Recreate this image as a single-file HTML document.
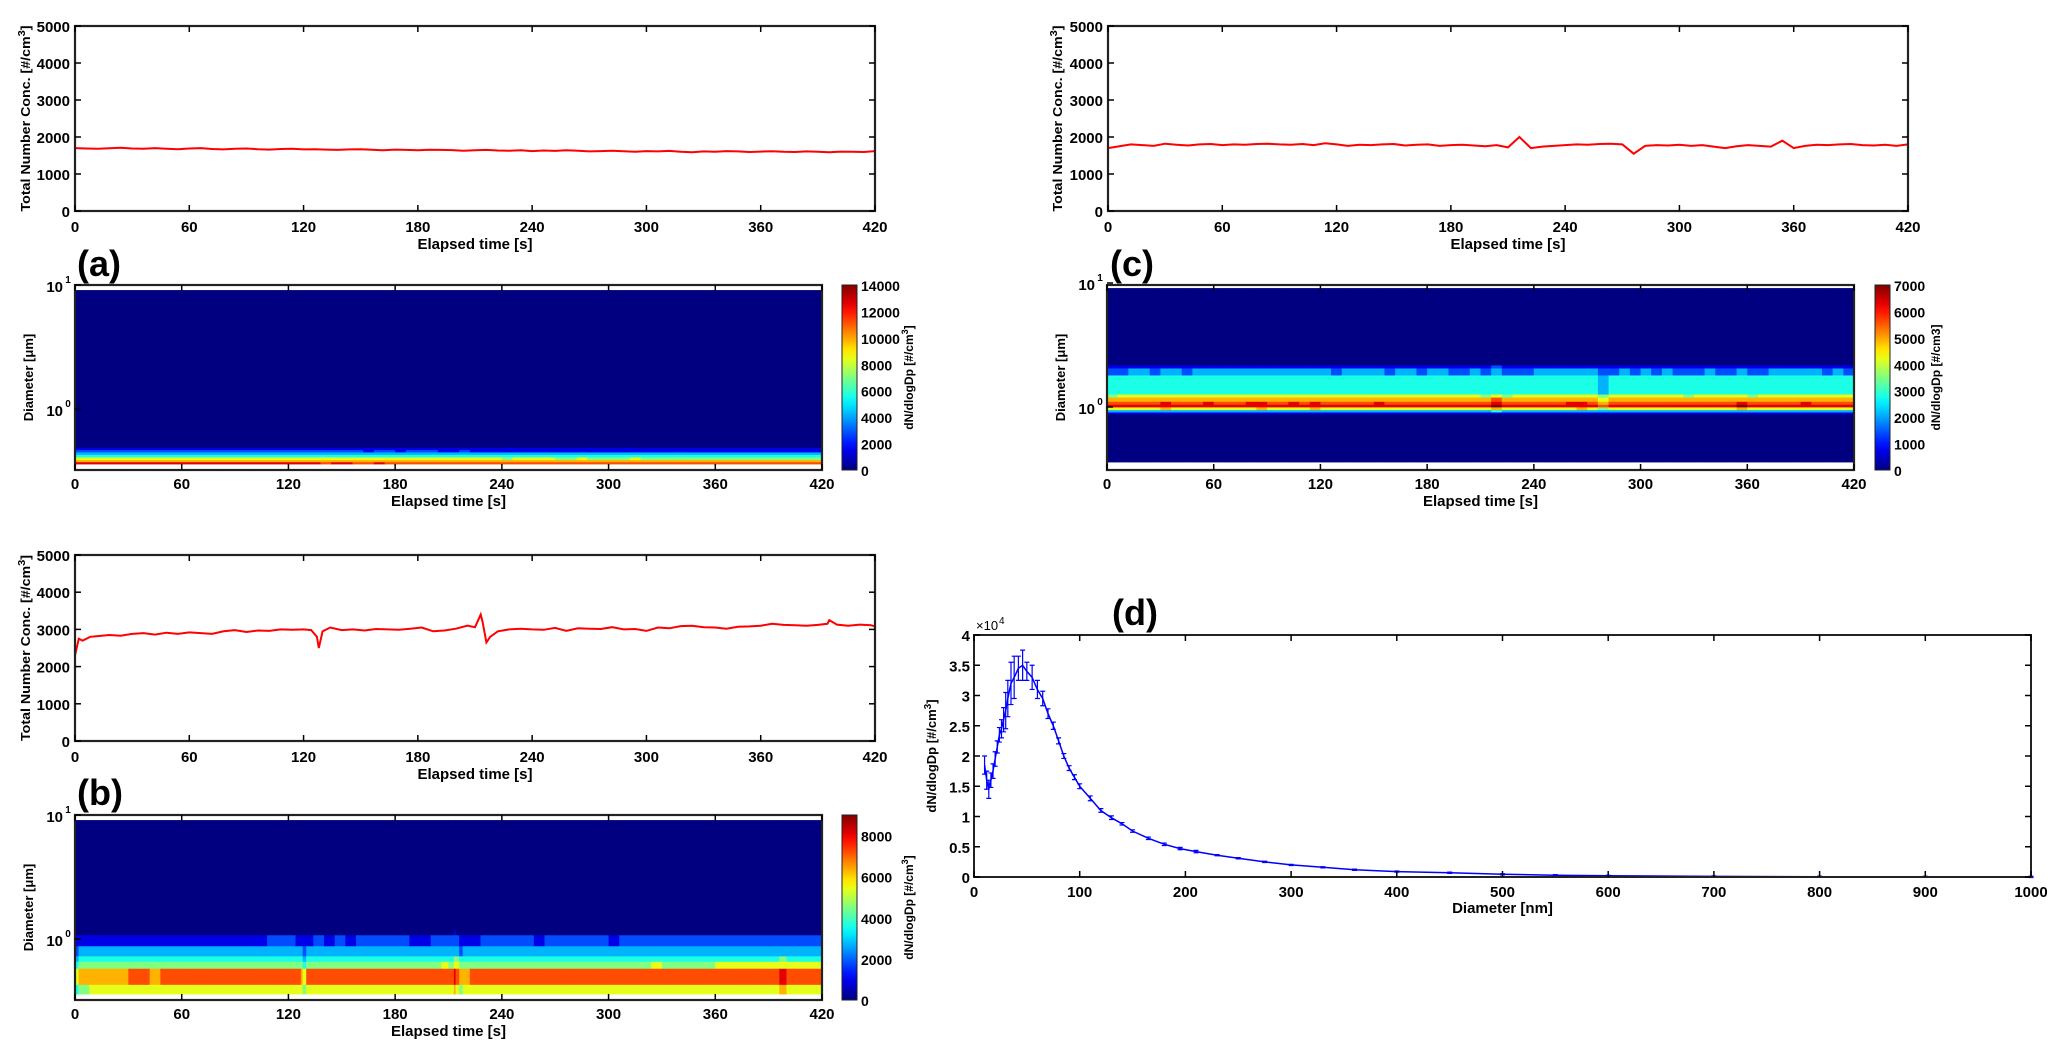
<!DOCTYPE html>
<html><head><meta charset="utf-8"><style>
html,body{margin:0;padding:0;background:#fff;}
svg{display:block;}
text{font-family:"Liberation Sans Narrow","Liberation Sans",sans-serif;font-weight:bold;fill:#000;}
.wide{font-family:"Liberation Sans",sans-serif;}
</style></head><body>
<svg id="fig" width="2067" height="1060" viewBox="0 0 2067 1060"></svg>
<script>
// ---- data ----
const aTotal=[1700,1690,1680,1695,1710,1690,1680,1700,1685,1670,1690,1700,1675,1665,1680,1690,1670,1660,1675,1680,1665,1670,1660,1650,1665,1670,1655,1640,1660,1650,1640,1655,1650,1645,1630,1640,1650,1635,1630,1640,1620,1635,1625,1640,1630,1610,1620,1630,1615,1600,1620,1610,1625,1600,1590,1610,1600,1620,1610,1595,1605,1615,1600,1595,1610,1600,1590,1605,1600,1595,1620];
const bTimes=[0,2,4,8,12,18,24,30,36,42,48,54,60,66,72,78,84,90,96,102,108,114,120,124,127,128,130,134,140,146,152,158,164,170,176,182,188,194,200,206,210,213,214,216,218,222,228,234,240,246,252,258,264,270,276,282,288,294,300,306,312,318,324,330,336,342,348,354,360,366,372,378,384,390,395,396,400,406,412,418,420];
const bTotal=[2300,2750,2700,2800,2820,2850,2830,2880,2900,2860,2910,2880,2920,2900,2880,2950,2980,2930,2970,2960,3000,2990,3000,2980,2800,2500,2950,3050,2980,3000,2970,3010,3000,2990,3020,3050,2950,2970,3020,3100,3060,3400,3200,2650,2800,2950,3000,3020,3000,2990,3040,2960,3030,3020,3010,3060,3000,3010,2960,3050,3030,3090,3100,3060,3050,3020,3070,3080,3100,3150,3120,3110,3100,3120,3150,3250,3130,3100,3130,3110,3080];
const cTotal=[1700,1750,1800,1780,1760,1820,1790,1770,1800,1810,1780,1800,1790,1810,1820,1800,1790,1810,1780,1830,1800,1760,1790,1780,1800,1810,1770,1790,1800,1760,1780,1790,1770,1750,1780,1720,2000,1700,1740,1760,1780,1800,1790,1810,1820,1800,1550,1760,1780,1770,1790,1760,1780,1740,1700,1750,1780,1760,1740,1900,1700,1760,1790,1780,1800,1810,1780,1770,1790,1760,1800];
const xTicks=[0,60,120,180,240,300,360,420];
const yTicks=[0,1000,2000,3000,4000,5000];
// size distributions (bin edges in µm, conc per bin)
const aEdges=[0.36,0.375,0.39,0.41,0.43,0.45,0.47,0.49,9.1];
const aConc=[12500,10500,8500,6500,4500,2800,1500,0];
const bEdges=[0.36,0.43,0.58,0.66,0.73,0.88,1.08,1.18,9.1];
const bConc=[5800,7500,5200,4200,3000,1800,800,0];
const cEdges=[0.36,0.88,0.91,0.95,1.0,1.05,1.11,1.2,1.27,1.81,2.06,2.18,2.26,9.1];
const cConc=[0,1000,2500,4800,6600,6200,5200,4300,3000,2100,1300,600,0];
const aCbTicks=[0,2000,4000,6000,8000,10000,12000,14000];
const bCbTicks=[0,2000,4000,6000,8000];
const cCbTicks=[0,1000,2000,3000,4000,5000,6000,7000];
// panel d
const dDiam=[10,12,14,16,18,20,22,24,26,28,30,32,35,38,42,46,50,55,60,65,70,75,80,85,90,95,100,110,120,130,140,150,165,180,195,210,230,250,275,300,330,360,400,450,500,550,600,700,800,900,1000];
const dConc=[1.85,1.6,1.45,1.6,1.75,1.95,2.15,2.35,2.45,2.6,2.75,2.95,3.2,3.3,3.45,3.5,3.4,3.3,3.1,2.95,2.7,2.5,2.25,2.0,1.8,1.65,1.5,1.3,1.1,0.98,0.88,0.76,0.64,0.54,0.47,0.42,0.36,0.31,0.25,0.2,0.16,0.12,0.09,0.07,0.045,0.03,0.02,0.01,0.005,0.003,0.002];
const dErr=[0.15,0.15,0.15,0.12,0.12,0.12,0.1,0.12,0.15,0.2,0.3,0.3,0.35,0.35,0.2,0.25,0.15,0.2,0.15,0.12,0.08,0.06,0.05,0.04,0.04,0.04,0.04,0.04,0.03,0.03,0.02,0.02,0.02,0.02,0.02,0.02,0.01,0.01,0.01,0.01,0.01,0.01,0.01,0.01,0.01,0.01,0.01,0.01,0.01,0.01,0.01];
const dXTicks=[0,100,200,300,400,500,600,700,800,900,1000];
const dYTicks=[0,0.5,1,1.5,2,2.5,3,3.5,4];

const NS="http://www.w3.org/2000/svg";
const svg=document.getElementById('fig');
function el(tag,attrs,parent,txt){const e=document.createElementNS(NS,tag);for(const k in attrs)e.setAttribute(k,attrs[k]);if(txt!==undefined)e.textContent=txt;(parent||svg).appendChild(e);return e;}
function jet(t){t=Math.max(0,Math.min(1,t));const c=v=>Math.round(255*Math.max(0,Math.min(1,v)));
 return `rgb(${c(1.5-Math.abs(4*t-3))},${c(1.5-Math.abs(4*t-2))},${c(1.5-Math.abs(4*t-1))})`;}
function mkText(x,y,s,size,anchor,parent,cls){const t=el('text',{x:x,y:y,'font-size':size,'text-anchor':anchor||'middle'},parent,s);if(cls)t.setAttribute('class',cls);return t;}

function lineChart(name,L,R,T,B,times,vals,ylabX){
 const g=el('g',{});
 
 
 const X=v=>L+(v/420)*(R-L), Y=v=>B-(v/5000)*(B-T);
 let d='';vals.forEach((v,i)=>{d+=(i?'L':'M')+X(times[i]).toFixed(1)+','+Y(v).toFixed(1);});
 const p=el('path',{d:d,fill:'none',stroke:'#ff0000','stroke-width':2},g);
 
 
 el('rect',{x:L,y:T,width:R-L,height:B-T,fill:'none',stroke:'#222','stroke-width':2.2},g);
 xTicks.forEach(t=>{const x=X(t);el('line',{x1:x,x2:x,y1:B,y2:B-6,stroke:'#000','stroke-width':1.5},g);el('line',{x1:x,x2:x,y1:T,y2:T+6,stroke:'#000','stroke-width':1.5},g);
  const lb=mkText(x,B+21,String(t),15,'middle',g);});
 yTicks.forEach(t=>{const y=Y(t);el('line',{x1:L,x2:L+6,y1:y,y2:y,stroke:'#000','stroke-width':1.5},g);el('line',{x1:R,x2:R-6,y1:y,y2:y,stroke:'#000','stroke-width':1.5},g);
  const lb=mkText(L-5,y+6,String(t),15,'end',g);});
 const xl=mkText((L+R)/2,B+38,'Elapsed time [s]',15,'middle',g);
 
 const cy=(T+B)/2;
 const yl=el('text',{x:ylabX,y:cy,'font-size':13,'text-anchor':'middle',transform:`rotate(-90 ${ylabX} ${cy})`,class:'wide',textLength:186,lengthAdjust:'spacingAndGlyphs'},g);
 yl.appendChild(document.createTextNode('Total Number Conc. [#/cm'));
 el('tspan',{'baseline-shift':'super','font-size':10},yl,'3');
 yl.appendChild(document.createTextNode(']'));
 
}

function heatmap(name,L,R,T,B,y0,times,totals,edges,conc,vmax,step,cbL,cbTicks,cbTitleX,cbTitle,sup3){
 const g=el('g',{});
 
 
 const X=v=>L+(v/420)*(R-L), Y=d=>y0-Math.log10(d)*124;
 let mean=0;totals.forEach(v=>mean+=v);mean/=totals.length;
 for(let j=0;j<times.length-1;j++){
  const x1=X(times[j]),x2=X(times[j+1]);const m=totals[j]/mean;
  for(let i=0;i<conc.length;i++){
   const v=conc[i]*(conc[i]>0?m:1);const lev=Math.floor(v/step)*step/vmax;
   const ya=Y(edges[i+1]),yb=Y(edges[i]);
   const r=el('rect',{x:x1.toFixed(2),y:ya.toFixed(2),width:(x2-x1+0.6).toFixed(2),height:(yb-ya+0.4).toFixed(2),fill:jet(lev)},g);
   
   
  }
 }
 el('rect',{x:L,y:T,width:R-L,height:B-T,fill:'none',stroke:'#222','stroke-width':2.2},g);
 xTicks.forEach(t=>{const x=X(t);el('line',{x1:x,x2:x,y1:B,y2:B-6,stroke:'#000','stroke-width':1.5},g);el('line',{x1:x,x2:x,y1:T,y2:T+6,stroke:'#000','stroke-width':1.5},g);
  const lb=mkText(x,B+19,String(t),15,'middle',g);});
 [[10,'1'],[1,'0']].forEach(([d,e])=>{const y=Y(d);el('line',{x1:L,x2:L+6,y1:y,y2:y,stroke:'#000','stroke-width':1.5},g);
  const t=mkText(L-12,y+7,'10',15,'end',g);
  mkText(L-7,y-2,e,10,'middle',g);});
 const xl=mkText((L+R)/2,B+36,'Elapsed time [s]',15,'middle',g);
 
 const cy=(T+B)/2,lx=L-42;
 const yl=el('text',{x:lx,y:cy,'font-size':13,'text-anchor':'middle',class:'wide',transform:`rotate(-90 ${lx} ${cy})`},g,'Diameter [μm]');
 
 const gid='grad'+name;const defs=el('defs',{},g);const lg=el('linearGradient',{id:gid,x1:0,y1:1,x2:0,y2:0},defs);
 for(let k=0;k<=20;k++)el('stop',{offset:k/20,'stop-color':jet(k/20)},lg);
 const cb=el('rect',{x:cbL,y:T,width:15,height:B-T,fill:`url(#${gid})`,stroke:'#222','stroke-width':1},g);
 
 cbTicks.forEach(t=>{const y=B-(t/vmax)*(B-T);const lb=mkText(cbL+19,y+6,String(t),14,'start',g);});
 const ct=el('text',{x:cbTitleX,y:cy,'font-size':12,'text-anchor':'middle',class:'wide',transform:`rotate(-90 ${cbTitleX} ${cy})`},g,cbTitle);
 if(sup3)el('tspan',{'baseline-shift':'super','font-size':9},ct,'3');
 if(sup3)ct.appendChild(document.createTextNode(']'));
 
}

const aTimes=aTotal.map((v,i)=>i*6), cTimes=cTotal.map((v,i)=>i*6);
lineChart('panel-a-line',75,875,26,211,aTimes,aTotal,30);
heatmap('panel-a-heatmap',75,822,285,470,409,aTimes,aTotal,aEdges,aConc,14000,1400,842,aCbTicks,913,'dN/dlogDp [#/cm',true);
lineChart('panel-b-line',75,875,555,741,bTimes,bTotal,30);
heatmap('panel-b-heatmap',75,822,815,1000,939,bTimes,bTotal,bEdges,bConc,9000,900,842,bCbTicks,913,'dN/dlogDp [#/cm',true);
lineChart('panel-c-line',1108,1908,26,211,cTimes,cTotal,1062);
heatmap('panel-c-heatmap',1107,1854,285,470,407,cTimes,cTotal,cEdges,cConc,7000,700,1875,cCbTicks,1940,'dN/dlogDp [#/cm3]',false);

[['(a)',77,276],['(b)',77,805],['(c)',1110,276],['(d)',1112,625]].forEach(([s,x,y])=>{
 const t=el('text',{x:x,y:y,'font-size':36,'text-anchor':'start',class:'wide'},svg,s);
 
 
});

(function(){
 const L=974,R=2031,T=635,B=877;
 const g=el('g',{});
 
 
 const X=v=>L+(v/1000)*(R-L),Y=v=>B-(v/4)*(B-T);
 let d='';dConc.forEach((v,i)=>{d+=(i?'L':'M')+X(dDiam[i]).toFixed(1)+','+Y(v).toFixed(1);});
 const p=el('path',{d:d,fill:'none',stroke:'#0000ff','stroke-width':1.5},g);
 
 dConc.forEach((v,i)=>{const x=X(dDiam[i]);const e=el('path',{d:`M${x},${Y(v-dErr[i])}V${Y(v+dErr[i])}M${x-2.5},${Y(v-dErr[i])}h5M${x-2.5},${Y(v+dErr[i])}h5`,stroke:'#0000ff','stroke-width':1.2,fill:'none'},g);
  });
 el('rect',{x:L,y:T,width:R-L,height:B-T,fill:'none',stroke:'#222','stroke-width':2},g);
 dXTicks.forEach(t=>{const x=X(t);el('line',{x1:x,x2:x,y1:B,y2:B-6,stroke:'#000','stroke-width':1.5},g);el('line',{x1:x,x2:x,y1:T,y2:T+6,stroke:'#000','stroke-width':1.5},g);
  const lb=mkText(x,B+20,String(t),15,'middle',g);});
 dYTicks.forEach(t=>{const y=Y(t);el('line',{x1:L,x2:L+6,y1:y,y2:y,stroke:'#000','stroke-width':1.5},g);el('line',{x1:R,x2:R-6,y1:y,y2:y,stroke:'#000','stroke-width':1.5},g);
  const lb=mkText(L-4,y+6,String(t),15,'end',g);});
 const ex=mkText(L+2,T-5,'×10',13,'start',g);ex.setAttribute('style','font-weight:normal');
 const es=mkText(L+25,T-11,'4',10,'start',g);es.setAttribute('style','font-weight:normal');
 const xl=mkText((L+R)/2,B+36,'Diameter [nm]',15,'middle',g);
 
 const cy=(T+B)/2,lx=936;
 const yl=el('text',{x:lx,y:cy,'font-size':13,'text-anchor':'middle',class:'wide',transform:`rotate(-90 ${lx} ${cy})`},g,'dN/dlogDp [#/cm');
 el('tspan',{'baseline-shift':'super','font-size':10},yl,'3');
 yl.appendChild(document.createTextNode(']'));
 
})();
</script>
</body></html>
